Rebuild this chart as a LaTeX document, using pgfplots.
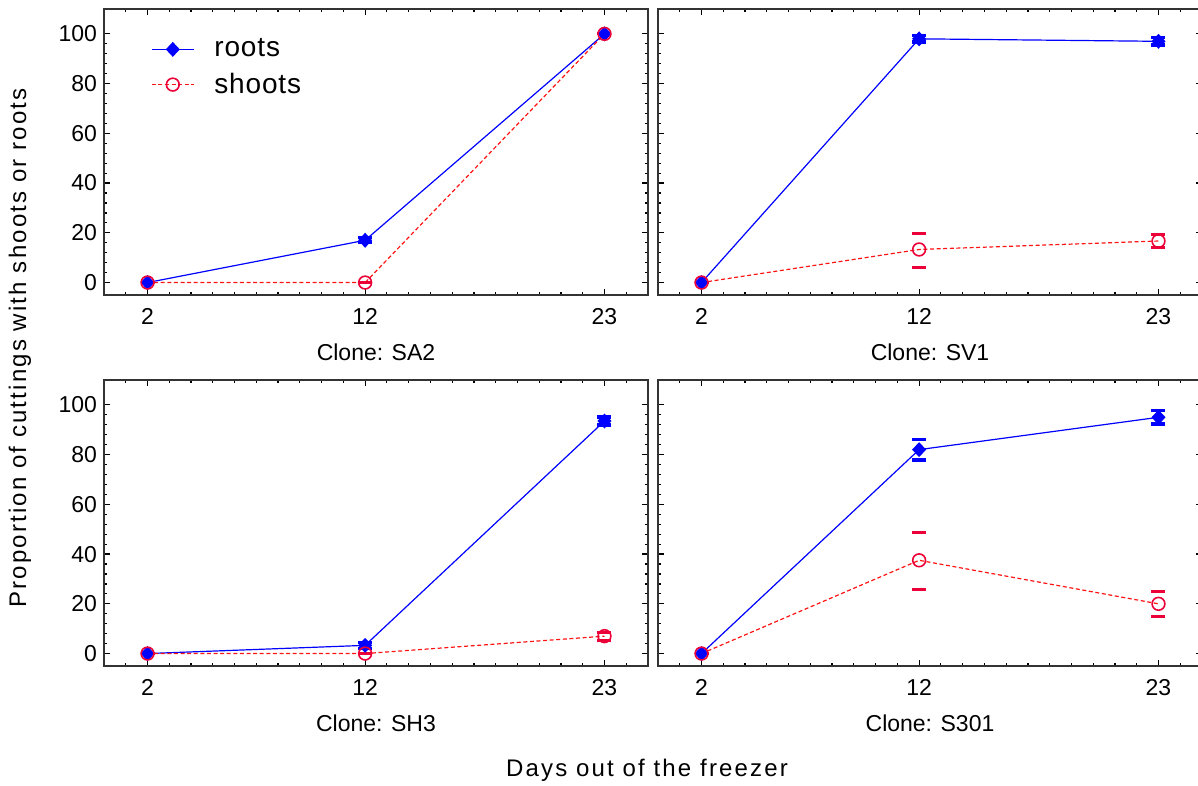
\documentclass[border=0pt]{standalone}
\usepackage{fontspec}
\setmainfont{Liberation Sans}
\newfontfamily\spacedfont[LetterSpace=9]{Liberation Sans}
\newfontfamily\legfont[LetterSpace=3]{Liberation Sans}
\usepackage{pgfplots}
\pgfplotsset{compat=1.18}
\usepackage{pgfplotstable}
\definecolor{rootblue}{RGB}{0,0,255}
\definecolor{shootred}{RGB}{255,20,20}
\definecolor{shootmark}{RGB}{235,0,55}

% x y ep em
\pgfplotstableread{
x y ep em
2 0 0 0
12 17 1 1
23 100 0 0
}\rootsA
\pgfplotstableread{
x y ep em
2 0 0 0
12 0 0 0
23 100 0 0
}\shootsA
\pgfplotstableread{
x y ep em
2 0 0 0
12 98 1.3 1.3
23 97 1.5 1.5
}\rootsB
\pgfplotstableread{
x y ep em
2 0 0 0
12 13.3 6.3 7.1
23 16.7 2.5 2.5
}\shootsB
\pgfplotstableread{
x y ep em
2 0 0 0
12 3.3 1.3 1.3
23 93.5 1.6 1.6
}\rootsC
\pgfplotstableread{
x y ep em
2 0 0 0
12 0 0 0
23 7 1.6 1.6
}\shootsC
\pgfplotstableread{
x y ep em
2 0 0 0
12 82 4.2 4.2
23 95 2.7 2.7
}\rootsD
\pgfplotstableread{
x y ep em
2 0 0 0
12 37.5 11.1 11.7
23 20 5 5
}\shootsD

\pgfplotsset{
  panel/.style={
    scale only axis, width=272pt, height=143pt,
    xmin=0, xmax=25, ymin=-5, ymax=110,
    xtick={2,12,23}, minor xtick={0,1,...,25},
    ytick={0,20,...,100}, minor y tick num=4,
    tick align=inside, major tick length=3pt, minor tick length=1.6pt,
    axis line style={line width=1pt, black!80},
    every tick/.style={black, line width=0.6pt},
    tick label style={font=\fontsize{11.5}{13}\selectfont},
    /pgf/number format/assume math mode=true,
    xticklabel style={yshift=-3pt},
    xlabel style={font=\fontsize{11.5}{13}\selectfont, at={(axis description cs:0.5,-0.2)}, anchor=center},
    anchor=south west,
    clip=false,
  },
  rootsplot/.style={rootblue, line width=0.6pt, mark=diamond*, mark size=3.3pt,
    mark options={solid, fill=rootblue, draw=rootblue, xscale=1.25},
    error bars/.cd, y dir=both, y explicit,
    error bar style={draw opacity=0, line width=0pt},
    error mark options={rotate=90, solid, draw=rootblue, draw opacity=1, line width=1.6pt, mark size=3.5pt}},
  shootsplot/.style={shootred, line width=0.6pt, dash pattern=on 2pt off 1.3pt,
    mark=o, mark size=3.2pt,
    mark options={solid, draw=shootmark, fill=white, line width=0.8pt},
    error bars/.cd, y dir=both, y explicit,
    error bar style={draw opacity=0, line width=0pt},
    error mark options={rotate=90, solid, draw=shootmark, draw opacity=1, line width=1.6pt, mark size=3.5pt}},
}

\begin{document}
\begin{tikzpicture}
% top left
\begin{axis}[panel, at={(52pt,245.5pt)}, xlabel={Clone: SA2},
  legend style={at={(axis description cs:0.075,0.925)}, anchor=north west, draw=none, fill=none,
    font=\fontsize{14}{16}\legfont, row sep=2.5pt, cells={anchor=west},
    /tikz/every odd column/.append style={column sep=8pt}},
  legend image code/.code={\draw[mark repeat=2, mark phase=2, #1] plot coordinates {(0pt,0pt) (10.5pt,0pt) (21pt,0pt)};}]
\addplot[rootsplot] table[x=x, y=y, y error plus=ep, y error minus=em] {\rootsA};
\addlegendentry{roots}
\addplot[shootsplot] table[x=x, y=y, y error plus=ep, y error minus=em] {\shootsA};
\addlegendentry{shoots}
\end{axis}
% top right
\begin{axis}[panel, at={(329pt,245.5pt)}, xlabel={Clone: SV1}, yticklabels={}]
\addplot[rootsplot] table[x=x, y=y, y error plus=ep, y error minus=em] {\rootsB};
\addplot[shootsplot] table[x=x, y=y, y error plus=ep, y error minus=em] {\shootsB};
\end{axis}
% bottom left
\begin{axis}[panel, at={(52pt,60pt)}, xlabel={Clone: SH3}]
\addplot[rootsplot] table[x=x, y=y, y error plus=ep, y error minus=em] {\rootsC};
\addplot[shootsplot] table[x=x, y=y, y error plus=ep, y error minus=em] {\shootsC};
\end{axis}
% bottom right
\begin{axis}[panel, at={(329pt,60pt)}, xlabel={Clone: S301}, yticklabels={}]
\addplot[rootsplot] table[x=x, y=y, y error plus=ep, y error minus=em] {\rootsD};
\addplot[shootsplot] table[x=x, y=y, y error plus=ep, y error minus=em] {\shootsD};
\end{axis}
\node[font=\fontsize{12}{14}\spacedfont] at (323.5pt,8pt) {Days out of the freezer};
\node[rotate=90, font=\fontsize{12}{14}\spacedfont] at (10pt,219pt) {Proportion of cuttings with shoots or roots};
\pgfresetboundingbox
\useasboundingbox (0pt,0pt) rectangle (599pt,393pt);
\end{tikzpicture}
\end{document}
